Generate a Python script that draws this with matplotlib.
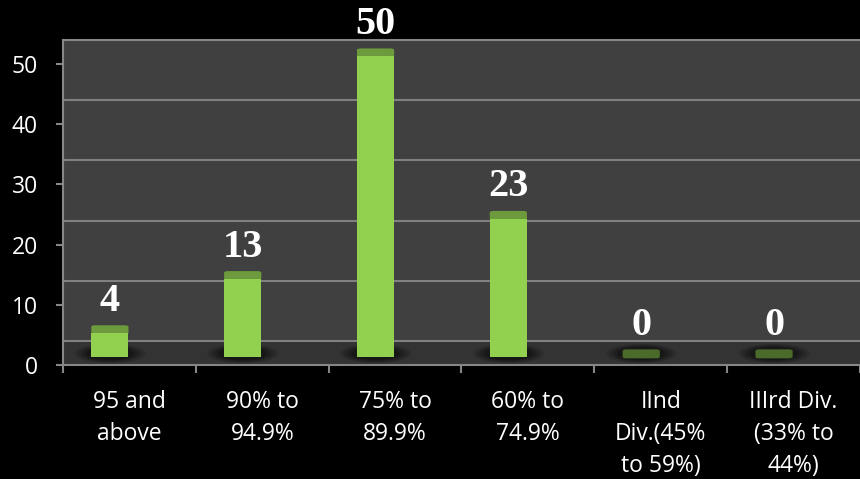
import numpy as np
import matplotlib
matplotlib.use('Agg')
from matplotlib import pyplot as plt
from matplotlib.patches import Ellipse, FancyBboxPatch

# 数据
categories = ['95 and\nabove', '90% to\n94.9%', '75% to\n89.9%', '60% to\n74.9%',
              'IInd\nDiv.(45%\nto 59%)', 'IIIrd Div.\n(33% to\n44%)']
values = [4, 13, 50, 23, 0, 0]
y_ticks = [0, 10, 20, 30, 40, 50]

plt.rcParams['font.family'] = ['Open Sans', 'DejaVu Sans']

fig = plt.figure(figsize=(8.6, 4.79), dpi=100, facecolor='black')
ax = fig.add_axes([63 / 860, 1 - 365 / 479, 1 - 63 / 860, (365 - 40) / 479])
ax.set_facecolor('#404040')

x = np.arange(len(categories))
ax.set_xlim(-0.5, len(categories) - 0.5)
ax.set_ylim(0, 54)

# 3D 效果: 地板和后墙网格线偏移
depth = 4
ax.axhspan(0, depth, color='#333333', zorder=0)
for t in y_ticks[:-1]:
    ax.axhline(t + depth, color='#808080', lw=1.5, zorder=1)

offset = -0.147
width = 0.28
base = 1.3
cap = 1.5
bx = x + offset

# 阴影
for xi in bx:
    for k, a in zip([1.9, 1.7, 1.5, 1.3], [0.12, 0.15, 0.18, 0.22]):
        ax.add_patch(Ellipse((xi, base + 0.6), width * k, 2.6 * k / 1.5, color='black',
                             alpha=a, lw=0, zorder=2))

ax.bar(bx, values, width=width, bottom=base, color='#92d050', zorder=4)
for xi, v in zip(bx, values):
    col = '#4b6b2b' if v == 0 else '#6c9a3c'
    ax.add_patch(FancyBboxPatch((xi - width / 2, base + v - 0.2), width, cap,
                                boxstyle='round,pad=0,rounding_size=0.03',
                                mutation_aspect=8, color=col, lw=0, zorder=3))
    ax.text(xi, v + 6.6, str(v), ha='center', va='center', color='white',
            fontsize=29, fontweight='bold', family='Liberation Serif', zorder=6)

# 坐标轴
for s in ['left', 'bottom', 'top']:
    ax.spines[s].set_color('#868686')
    ax.spines[s].set_linewidth(1.5)
ax.spines['right'].set_visible(False)
ax.set_yticks(y_ticks)
ax.tick_params(axis='y', colors='#868686', length=5, width=1.5, pad=13,
               labelcolor='white', labelsize=16.5)
ax.set_xticks(np.arange(-0.5, len(categories)), [''] * (len(categories) + 1))
ax.tick_params(axis='x', which='major', colors='#868686', length=6, width=1.5)
ax.set_xticks(x, categories, minor=True)
ax.tick_params(axis='x', which='minor', length=0, pad=18, labelcolor='white', labelsize=16.5)
for lab in ax.get_xticklabels(minor=True):
    lab.set_linespacing(1.45)

fig.savefig('out.png', dpi=100, facecolor='black')
